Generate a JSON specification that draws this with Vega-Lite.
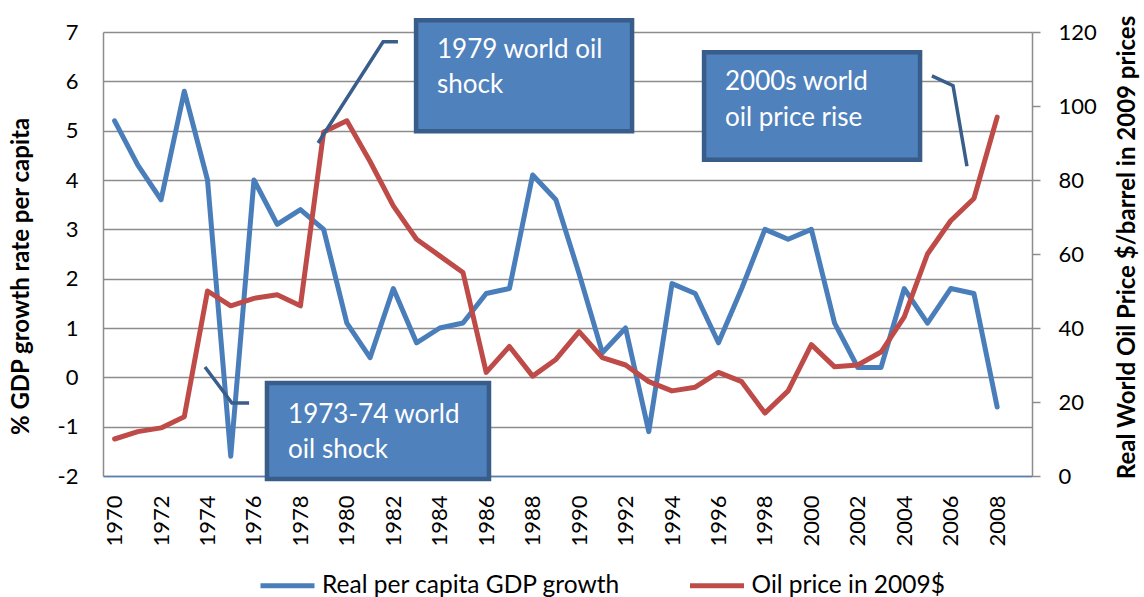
{
  "$schema": "https://vega.github.io/schema/vega-lite/v6.json",
  "width": 929,
  "height": 444,
  "autosize": {"type": "none"},
  "padding": {"left": 103, "top": 32, "right": 112, "bottom": 121},
  "background": "white",
  "config": {"view": {"stroke": null}, "font": "Lato"},
  "datasets": {
    "series": [
      {"year": 1970, "gdp": 5.2, "oil": 10},
      {"year": 1971, "gdp": 4.3, "oil": 12},
      {"year": 1972, "gdp": 3.6, "oil": 13},
      {"year": 1973, "gdp": 5.8, "oil": 16},
      {"year": 1974, "gdp": 4.0, "oil": 50},
      {"year": 1975, "gdp": -1.6, "oil": 46},
      {"year": 1976, "gdp": 4.0, "oil": 48},
      {"year": 1977, "gdp": 3.1, "oil": 49},
      {"year": 1978, "gdp": 3.4, "oil": 46},
      {"year": 1979, "gdp": 3.0, "oil": 93},
      {"year": 1980, "gdp": 1.1, "oil": 96},
      {"year": 1981, "gdp": 0.4, "oil": 85},
      {"year": 1982, "gdp": 1.8, "oil": 73},
      {"year": 1983, "gdp": 0.7, "oil": 64},
      {"year": 1984, "gdp": 1.0, "oil": 59.5},
      {"year": 1985, "gdp": 1.1, "oil": 55},
      {"year": 1986, "gdp": 1.7, "oil": 28},
      {"year": 1987, "gdp": 1.8, "oil": 35},
      {"year": 1988, "gdp": 4.1, "oil": 27},
      {"year": 1989, "gdp": 3.6, "oil": 31.5},
      {"year": 1990, "gdp": 2.1, "oil": 39},
      {"year": 1991, "gdp": 0.5, "oil": 32},
      {"year": 1992, "gdp": 1.0, "oil": 30},
      {"year": 1993, "gdp": -1.1, "oil": 25.5},
      {"year": 1994, "gdp": 1.9, "oil": 23},
      {"year": 1995, "gdp": 1.7, "oil": 24},
      {"year": 1996, "gdp": 0.7, "oil": 28},
      {"year": 1997, "gdp": 1.8, "oil": 25.5},
      {"year": 1998, "gdp": 3.0, "oil": 17},
      {"year": 1999, "gdp": 2.8, "oil": 23},
      {"year": 2000, "gdp": 3.0, "oil": 35.5},
      {"year": 2001, "gdp": 1.1, "oil": 29.5},
      {"year": 2002, "gdp": 0.2, "oil": 30},
      {"year": 2003, "gdp": 0.2, "oil": 33.5},
      {"year": 2004, "gdp": 1.8, "oil": 43},
      {"year": 2005, "gdp": 1.1, "oil": 60},
      {"year": 2006, "gdp": 1.8, "oil": 69},
      {"year": 2007, "gdp": 1.7, "oil": 75},
      {"year": 2008, "gdp": -0.6, "oil": 97}
    ],
    "boxes": [
      {"name": "1979", "x1": 1982.98, "x2": 1992.28, "y1": 7.24, "y2": 4.99},
      {"name": "2000s", "x1": 1995.38, "x2": 2004.68, "y1": 6.59, "y2": 4.41},
      {"name": "1973", "x1": 1976.56, "x2": 1986.12, "y1": -0.115, "y2": -2.06}
    ],
    "labels": [
      {"t": "1979 world oil", "x": 1983.88, "y": 6.64},
      {"t": "shock", "x": 1983.88, "y": 5.93},
      {"t": "2000s world", "x": 1996.28, "y": 5.99},
      {"t": "oil price rise", "x": 1996.28, "y": 5.26},
      {"t": "1973-74 world", "x": 1977.47, "y": -0.76},
      {"t": "oil shock", "x": 1977.47, "y": -1.47}
    ],
    "connectors": [
      {"id": "a", "o": 1, "year": 1978.76, "v": 4.75},
      {"id": "a", "o": 2, "year": 1981.56, "v": 6.8},
      {"id": "a", "o": 3, "year": 1982.2, "v": 6.8},
      {"id": "b", "o": 1, "year": 1973.89, "v": 0.21},
      {"id": "b", "o": 2, "year": 1975.05, "v": -0.52},
      {"id": "b", "o": 3, "year": 1975.79, "v": -0.52},
      {"id": "c", "o": 1, "year": 2005.19, "v": 6.11},
      {"id": "c", "o": 2, "year": 2006.1, "v": 5.91},
      {"id": "c", "o": 3, "year": 2006.7, "v": 4.28}
    ]
  },
  "layer": [
    {
      "data": {"name": "series"},
      "mark": {"type": "line", "strokeWidth": 5, "strokeCap": "round", "strokeJoin": "round"},
      "encoding": {
        "x": {
          "field": "year", "type": "quantitative",
          "scale": {"domain": [1969.5, 2009.5], "nice": false, "zero": false},
          "axis": {
            "values": [1970, 1972, 1974, 1976, 1978, 1980, 1982, 1984, 1986, 1988, 1990, 1992, 1994, 1996, 1998, 2000, 2002, 2004, 2006, 2008],
            "format": "d", "labelAngle": -90, "grid": false, "ticks": false, "tickSize": 0,
            "labelPadding": 19, "domainColor": "#4F81BD", "domainWidth": 1.5,
            "labelFontSize": 22, "labelColor": "#000000", "labelOverlap": false, "labelFlush": false,
            "title": null
          }
        },
        "y": {
          "field": "gdp", "type": "quantitative",
          "scale": {"domain": [-2, 7], "nice": false, "zero": false},
          "axis": {
            "orient": "left", "values": [-2, -1, 0, 1, 2, 3, 4, 5, 6, 7],
            "labelExpr": "datum.value < 0 ? '-' + abs(datum.value) : '' + datum.value",
            "grid": true, "gridColor": "#8c8c8c", "gridWidth": 1.5,
            "domainColor": "#8c8c8c", "domainWidth": 1.5, "ticks": false, "tickSize": 0,
            "labelPadding": 25, "labelFontSize": 22, "labelColor": "#000000",
            "title": "% GDP growth rate per capita", "titleFontSize": 24, "titleFontWeight": "bold",
            "titleColor": "#000000", "titleAngle": 270, "titleX": -82, "titleY": 244,
            "titleBaseline": "middle", "titleAlign": "center"
          }
        },
        "color": {
          "datum": "Real per capita GDP growth", "type": "nominal",
          "scale": {"domain": ["Real per capita GDP growth", "Oil price in 2009$"], "range": ["#4A7EBB", "#BE4B48"]},
          "legend": {
            "orient": "none", "legendX": 168.5, "legendY": 537.5, "direction": "horizontal", "title": null,
            "padding": 0, "symbolType": "M-2,0H2", "symbolSize": 729, "symbolStrokeWidth": 5,
            "labelFontSize": 24.5, "labelColor": "#000000", "labelOffset": 18.5, "columnPadding": 59.5, "labelLimit": 500
          }
        }
      }
    },
    {
      "data": {"name": "series"},
      "mark": {"type": "line", "strokeWidth": 5, "strokeCap": "round", "strokeJoin": "round"},
      "encoding": {
        "x": {"field": "year", "type": "quantitative", "scale": {"domain": [1969.5, 2009.5], "nice": false, "zero": false}},
        "y": {
          "field": "oil", "type": "quantitative",
          "scale": {"domain": [0, 120], "nice": false},
          "axis": {
            "orient": "right", "values": [0, 20, 40, 60, 80, 100, 120], "grid": false,
            "domainColor": "#8c8c8c", "domainWidth": 1.5, "tickColor": "#8c8c8c", "tickWidth": 1.5, "tickSize": 8,
            "labelPadding": 18, "labelFontSize": 22, "labelColor": "#000000",
            "title": "Real World Oil Price $/barrel in 2009 prices", "titleFontSize": 24, "titleFontWeight": "bold",
            "titleColor": "#000000", "titleAngle": 270, "titleX": 95, "titleY": 215,
            "titleBaseline": "middle", "titleAlign": "center"
          }
        },
        "color": {"datum": "Oil price in 2009$", "type": "nominal"}
      }
    },
    {
      "layer": [
        {
          "mark": {"type": "rule", "color": "#4F81BD", "strokeWidth": 1.5},
          "encoding": {"y": {"datum": 7, "type": "quantitative", "scale": {"domain": [-2, 7], "nice": false, "zero": false}, "axis": null}}
        },
        {
          "data": {"name": "connectors"},
          "mark": {"type": "line", "color": "#3A5E8C", "strokeWidth": 3.5},
          "encoding": {
            "x": {"field": "year", "type": "quantitative", "scale": {"domain": [1969.5, 2009.5], "nice": false, "zero": false}},
            "y": {"field": "v", "type": "quantitative", "scale": {"domain": [-2, 7], "nice": false, "zero": false}, "axis": null},
            "detail": {"field": "id"},
            "order": {"field": "o"}
          }
        },
        {
          "data": {"name": "boxes"},
          "mark": {"type": "rect", "fill": "#4F81BD", "stroke": "#385D8A", "strokeWidth": 4.5},
          "encoding": {
            "x": {"field": "x1", "type": "quantitative", "scale": {"domain": [1969.5, 2009.5], "nice": false, "zero": false}},
            "x2": {"field": "x2"},
            "y": {"field": "y1", "type": "quantitative", "scale": {"domain": [-2, 7], "nice": false, "zero": false}, "axis": null},
            "y2": {"field": "y2"}
          }
        },
        {
          "data": {"name": "labels"},
          "mark": {"type": "text", "align": "left", "baseline": "middle", "fontSize": 26, "color": "#FFFFFF", "font": "Lato"},
          "encoding": {
            "x": {"field": "x", "type": "quantitative", "scale": {"domain": [1969.5, 2009.5], "nice": false, "zero": false}},
            "y": {"field": "y", "type": "quantitative", "scale": {"domain": [-2, 7], "nice": false, "zero": false}, "axis": null},
            "text": {"field": "t"}
          }
        }
      ]
    }
  ],
  "resolve": {"scale": {"y": "independent"}, "axis": {"y": "independent"}}
}
